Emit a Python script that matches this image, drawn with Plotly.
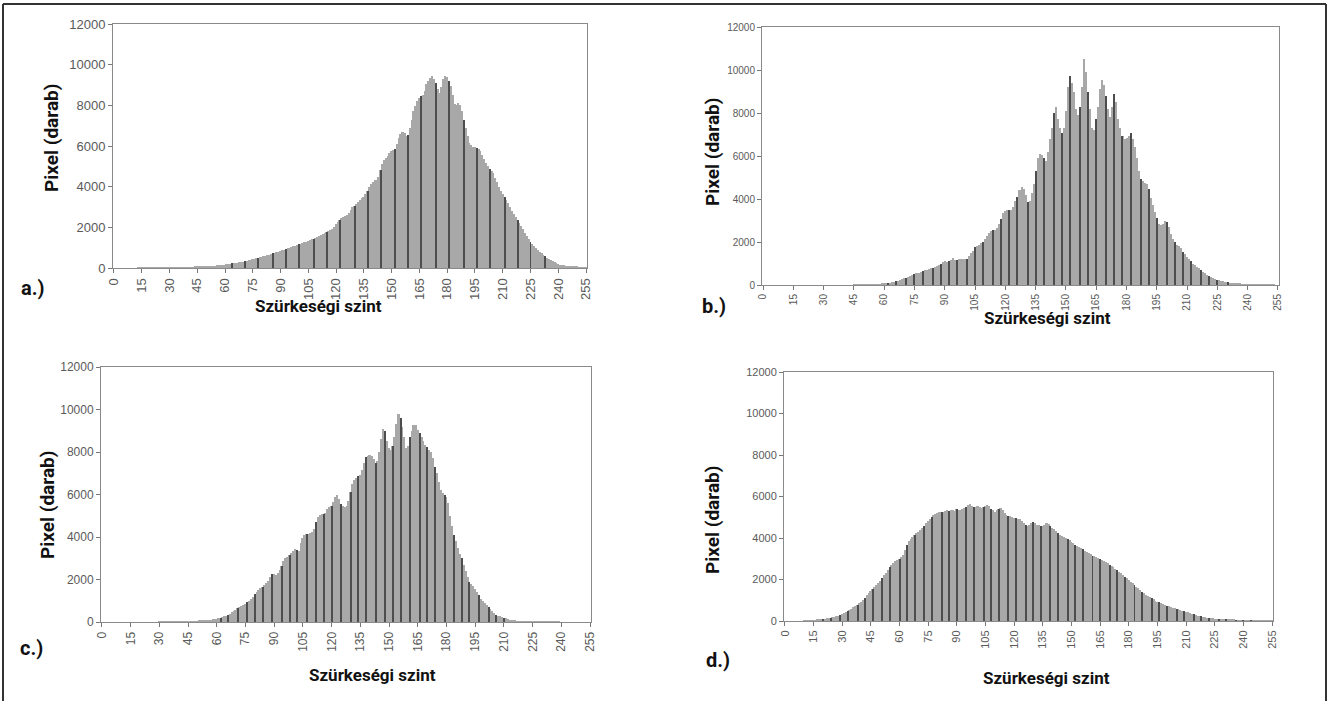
import plotly.graph_objects as go

levels = list(range(256))

hist_a = [
    0, 0, 0, 0, 0, 0, 0, 0, 0, 0,
    0, 0, 0, 1, 1, 1, 2, 2, 3, 3,
    4, 5, 5, 6, 7, 8, 9, 10, 11, 12,
    14, 15, 17, 19, 21, 23, 25, 28, 31, 34,
    37, 41, 45, 49, 53, 58, 63, 68, 74, 80,
    86, 93, 100, 107, 115, 123, 131, 140, 150, 160,
    170, 182, 195, 208, 222, 236, 250, 265, 280, 298,
    316, 335, 355, 376, 398, 420, 445, 470, 495, 520,
    548, 575, 603, 630, 658, 687, 716, 745, 775, 805,
    835, 866, 898, 930, 962, 995, 1028, 1060, 1095, 1130,
    1165, 1200, 1236, 1272, 1300, 1330, 1370, 1410, 1450, 1500,
    1540, 1580, 1630, 1680, 1730, 1780, 1830, 1880, 1930, 2000,
    2150, 2250, 2380, 2450, 2510, 2550, 2600, 2700, 2850, 2980,
    3050, 3150, 3250, 3350, 3420, 3500, 3650, 3800, 4000, 4150,
    4250, 4320, 4330, 4500, 4800, 5100, 5300, 5400, 5500, 5650,
    5750, 5800, 5850, 6100, 6400, 6600, 6700, 6650, 6500, 6550,
    6900, 7300, 7700, 7950, 8200, 8350, 8450, 8500, 8700, 9050,
    9200, 9350, 9450, 9300, 9100, 8800, 8600, 8900, 9300, 9450,
    9400, 9200, 8950, 8500, 8050, 8000, 8100, 8000, 7700, 7300,
    6900, 6500, 6150, 6050, 5950, 5950, 5900, 5850, 5750, 5550,
    5350, 5150, 5000, 4850, 4750, 4650, 4450, 4250, 4000, 3800,
    3650, 3500, 3350, 3200, 3000, 2800, 2650, 2500, 2350, 2200,
    2050, 1900, 1720, 1580, 1440, 1300, 1180, 1080, 980, 880,
    790, 720, 650, 570, 500, 440, 380, 320, 275, 235,
    200, 170, 145, 125, 110, 95, 85, 75, 65, 58,
    52, 48, 45, 42, 40, 38,
]

hist_b = [
    0, 0, 0, 0, 0, 0, 0, 0, 0, 0,
    0, 0, 0, 0, 0, 0, 0, 0, 0, 0,
    0, 0, 0, 0, 0, 0, 0, 0, 0, 0,
    0, 0, 0, 0, 0, 0, 0, 0, 0, 0,
    0, 0, 0, 0, 0, 2, 3, 4, 5, 6,
    8, 10, 12, 15, 18, 22, 27, 33, 40, 48,
    58, 70, 85, 100, 120, 145, 170, 200, 235, 270,
    305, 340, 380, 420, 460, 500, 540, 580, 620, 660,
    690, 720, 750, 780, 810, 850, 900, 950, 1000, 1080,
    1100, 1060, 1100, 1150, 1250, 1150, 1180, 1190, 1200, 1220,
    1190, 1200, 1350, 1480, 1600, 1750, 1800, 1850, 1950, 2000,
    2150, 2300, 2400, 2500, 2550, 2560, 2650, 2850, 3050, 3350,
    3450, 3480, 3500, 3480, 3650, 3900, 4100, 4400, 4550, 4450,
    4200, 3850, 3900, 4300, 4700, 5300, 5900, 6100, 6050, 5900,
    5750, 6200, 6800, 7300, 8000, 8300, 7700, 7300, 7050, 7300,
    8100, 9200, 9700, 9400, 9000, 8200, 7900, 8300, 9200, 10500,
    9900, 9000, 8200, 7300, 7200, 7700, 8300, 9100, 9550, 9300,
    8800, 8200, 7800, 8300, 8900, 8500, 7700, 7300, 6950, 6800,
    6850, 6950, 7050, 6800, 6400, 5900, 5300, 4950, 4850, 4750,
    4700, 4450, 4050, 3700, 3400, 3100, 2850, 2780, 2850, 2980,
    2950, 2700, 2350, 2150, 2000, 1880, 1830, 1700, 1550, 1420,
    1300, 1200, 1100, 1000, 920, 850, 780, 700, 620, 550,
    480, 430, 380, 330, 290, 250, 220, 190, 165, 145,
    125, 110, 95, 80, 70, 60, 50, 42, 35, 30,
    25, 20, 16, 13, 10, 8, 6, 5, 4, 3,
    2, 2, 1, 1, 0, 0,
]

hist_c = [
    0, 0, 0, 0, 0, 0, 0, 0, 0, 0,
    0, 0, 0, 0, 0, 0, 0, 0, 0, 0,
    0, 0, 0, 0, 0, 0, 0, 0, 0, 0,
    1, 1, 2, 2, 3, 3, 4, 5, 6, 7,
    8, 10, 12, 14, 17, 20, 24, 28, 33, 38,
    44, 50, 57, 65, 74, 84, 95, 108, 122, 138,
    155, 175, 200, 230, 265, 305, 350, 400, 460, 520,
    580, 640, 700, 760, 800, 850, 920, 1000, 1100, 1200,
    1300, 1400, 1500, 1600, 1650, 1750, 1850, 1950, 2100, 2250,
    2250, 2200, 2300, 2450, 2650, 2850, 3000, 3050, 3150, 3250,
    3350, 3450, 3400, 3350, 3700, 3950, 4100, 4150, 4150, 4200,
    4250, 4400, 4700, 4950, 5050, 5100, 5100, 5150, 5300, 5400,
    5450, 5650, 5900, 6000, 5800, 5550, 5450, 5400, 5450, 5700,
    6100, 6500, 6700, 6800, 6850, 6900, 7150, 7500, 7750, 7800,
    7850, 7800, 7650, 7500, 7600, 8000, 8600, 9100, 9000, 8500,
    8200, 8100, 8300, 8700, 9300, 9800, 9600, 9200, 8700, 8200,
    8300, 8700, 9000, 9250, 9250, 9050, 8900, 8700, 8500, 8350,
    8250, 8100, 8000, 7700, 7300, 7000, 6600, 6200, 6050, 6000,
    5900, 5600, 5000, 4500, 4100, 3800, 3500, 3200, 3000, 2700,
    2400, 2100, 1900, 1800, 1700, 1550, 1400, 1250, 1100, 1000,
    900, 800, 700, 600, 500, 420, 350, 300, 260, 230,
    200, 170, 140, 110, 90, 70, 55, 45, 35, 28,
    22, 18, 14, 11, 9, 7, 6, 5, 4, 3,
    3, 2, 2, 2, 1, 1, 1, 1, 1, 1,
    0, 0, 0, 0, 0, 0, 0, 0, 0, 0,
    0, 0, 0, 0, 0, 0,
]

hist_d = [
    0, 0, 0, 0, 0, 0, 0, 0, 0, 0,
    5, 8, 12, 18, 25, 35, 45, 55, 65, 80,
    95, 110, 125, 140, 160, 180, 200, 225, 255, 280,
    320, 370, 430, 490, 540, 600, 660, 720, 790, 850,
    920, 1010, 1120, 1240, 1340, 1450, 1560, 1650, 1750, 1850,
    1950, 2080, 2200, 2320, 2450, 2580, 2700, 2800, 2880, 2950,
    3000, 3080, 3200, 3400, 3650, 3850, 3950, 4050, 4150, 4230,
    4300, 4400, 4500, 4600, 4700, 4800, 4900, 5000, 5100, 5150,
    5200, 5230, 5270, 5250, 5300, 5350, 5320, 5360, 5350, 5300,
    5380, 5350, 5330, 5400, 5450, 5500, 5580, 5640, 5550, 5500,
    5480, 5520, 5510, 5460, 5500, 5560, 5590, 5520, 5400, 5330,
    5270, 5330, 5420, 5430, 5350, 5200, 5100, 5050, 5050, 5000,
    4950, 4950, 4920, 4900, 4800, 4700, 4620, 4580, 4650, 4720,
    4780, 4700, 4650, 4620, 4600, 4600, 4650, 4700, 4680, 4600,
    4500, 4420, 4330, 4230, 4150, 4100, 4030, 3990, 3960, 3900,
    3820, 3760, 3680, 3620, 3570, 3500, 3450, 3380, 3340, 3280,
    3220, 3150, 3110, 3070, 3040, 2990, 2940, 2880, 2820, 2780,
    2720, 2660, 2600, 2530, 2450, 2380, 2300, 2220, 2140, 2050,
    1980, 1900, 1820, 1740, 1660, 1580, 1500, 1420, 1340, 1260,
    1200, 1150, 1100, 1040, 980, 930, 900, 860, 820, 780,
    740, 700, 680, 650, 620, 590, 560, 530, 500, 470,
    440, 410, 380, 350, 320, 290, 265, 240, 220, 200,
    180, 165, 150, 135, 125, 115, 105, 95, 88, 82,
    76, 70, 65, 60, 55, 50, 46, 42, 39, 36,
    33, 30, 28, 26, 24, 22, 20, 18, 16, 14,
    12, 10, 8, 6, 4, 2,
]

x_ticks = list(range(0, 256, 15))
y_ticks = [0, 2000, 4000, 6000, 8000, 10000, 12000]
panel_letters = ["a.)", "b.)", "c.)", "d.)"]
y_title = "Pixel (darab)"
x_title = "Szürkeségi szint"

W, H = 1329, 701


def px(x):
    return x / W


def py(y):
    return 1 - y / H


# plot areas in pixels: (left, right, top, bottom)
areas = [(113, 587, 24, 268), (762, 1279, 27, 285), (101, 591, 367, 622), (784, 1273, 372, 621)]
# dark-line pattern (start, step, end) mimicking the scanned bar edges
dark_pattern = [(63.6, 7.35, 236), (62.0, 4.3, 232), (62.0, 4.5, 214), (20.0, 4.4, 245)]
tick_sizes = [13, 10, 12, 11]
ytitle_pos = [(52, 138), (712, 152), (47, 505), (712, 520)]
xtitle_pos = [(318, 306), (1047, 318), (372, 675), (1046, 678)]
letter_pos = [(33, 288), (714, 306), (31, 648), (718, 660)]

series = [hist_a, hist_b, hist_c, hist_d]

fig = go.Figure()
layout_axes = {}
annotations = []
bold_font = "Roboto, Arial, sans-serif"

for i, vals in enumerate(series):
    n = i + 1
    xa = "x" if n == 1 else f"x{n}"
    ya = "y" if n == 1 else f"y{n}"
    tick_font = dict(family="Liberation Sans, Arial, sans-serif", size=tick_sizes[i], color="#5a5a5a")
    fig.add_trace(go.Bar(x=levels, y=vals, xaxis=xa, yaxis=ya, width=1.0,
                         marker=dict(color="#a8a8a8", line=dict(width=0)),
                         showlegend=False, hoverinfo="x+y"))
    s, st, e = dark_pattern[i]
    idx = []
    k = 0
    while s + k * st <= e:
        idx.append(int(round(s + k * st)))
        k += 1
    fig.add_trace(go.Bar(x=[levels[j] for j in idx], y=[vals[j] for j in idx],
                         xaxis=xa, yaxis=ya, width=0.5,
                         marker=dict(color="#4d4d4d", line=dict(width=0)),
                         showlegend=False, hoverinfo="skip"))
    l, r, t, b = areas[i]
    xkey = "xaxis" if n == 1 else f"xaxis{n}"
    ykey = "yaxis" if n == 1 else f"yaxis{n}"
    layout_axes[xkey] = dict(domain=[px(l), px(r)], anchor=ya, range=[-0.5, 255.5],
                             tickvals=x_ticks, ticktext=[str(v) for v in x_ticks], tickangle=-90,
                             ticks="outside", ticklen=4, tickcolor="#777777", automargin=False,
                             showline=True, linecolor="#8a8a8a", linewidth=1, mirror=True,
                             showgrid=False, zeroline=False, tickfont=tick_font, fixedrange=True)
    layout_axes[ykey] = dict(domain=[py(b), py(t)], anchor=xa, range=[0, 12000],
                             tickvals=y_ticks, ticktext=[str(v) for v in y_ticks],
                             ticks="outside", ticklen=4, tickcolor="#777777", automargin=False,
                             showline=True, linecolor="#8a8a8a", linewidth=1, mirror=True,
                             showgrid=False, zeroline=False, tickfont=tick_font, fixedrange=True)
    annotations.append(dict(text=f"<b>{y_title}</b>", x=px(ytitle_pos[i][0]), y=py(ytitle_pos[i][1]),
                            xref="paper", yref="paper", showarrow=False, textangle=-90,
                            font=dict(family=bold_font, size=19, color="#111111"),
                            xanchor="center", yanchor="middle"))
    annotations.append(dict(text=f"<b>{x_title}</b>", x=px(xtitle_pos[i][0]), y=py(xtitle_pos[i][1]),
                            xref="paper", yref="paper", showarrow=False,
                            font=dict(family=bold_font, size=17, color="#111111"),
                            xanchor="center", yanchor="middle"))
    annotations.append(dict(text=f"<b>{panel_letters[i]}</b>", x=px(letter_pos[i][0]), y=py(letter_pos[i][1]),
                            xref="paper", yref="paper", showarrow=False,
                            font=dict(family=bold_font, size=20, color="#111111"),
                            xanchor="center", yanchor="middle"))

shapes = [
    dict(type="line", xref="paper", yref="paper", x0=px(3), x1=px(1326), y0=py(4), y1=py(4),
         line=dict(color="#333333", width=2)),
    dict(type="line", xref="paper", yref="paper", x0=px(3), x1=px(3), y0=py(4), y1=0,
         line=dict(color="#333333", width=2)),
    dict(type="line", xref="paper", yref="paper", x0=px(1326), x1=px(1326), y0=py(4), y1=0,
         line=dict(color="#333333", width=2)),
]

fig.update_layout(width=W, height=H, margin=dict(l=0, r=0, t=0, b=0, autoexpand=False),
                  paper_bgcolor="white", plot_bgcolor="white", barmode="overlay", bargap=0,
                  annotations=annotations, shapes=shapes, **layout_axes)

fig.write_html("out.html", config={"displayModeBar": False},
               post_script="document.body.style.margin='0';document.body.style.overflow='hidden';")
